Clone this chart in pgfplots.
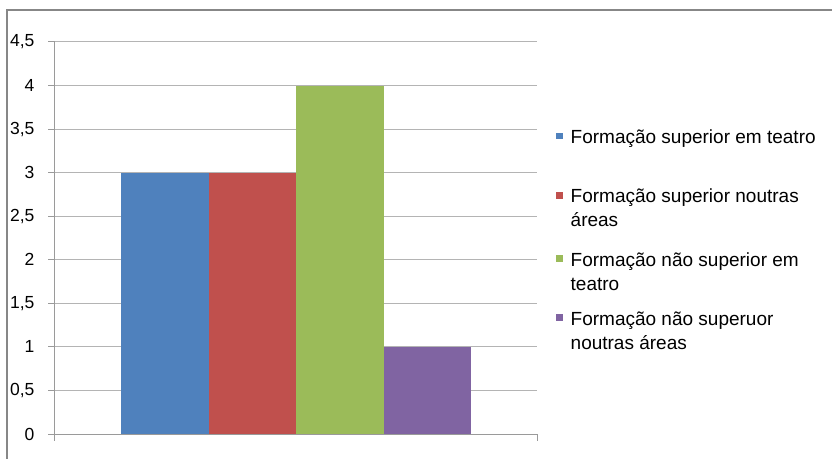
\documentclass[border=0pt]{standalone}
\usepackage{fontspec}
\setmainfont{Liberation Sans}
\usepackage{pgfplots}
\pgfplotsset{compat=1.18}
\definecolor{barblue}{HTML}{4F81BD}
\definecolor{barred}{HTML}{C0504D}
\definecolor{bargreen}{HTML}{9BBB59}
\definecolor{barpurple}{HTML}{8064A2}
\definecolor{gridgray}{HTML}{B4B4B4}
\definecolor{axisgray}{HTML}{9A9A9A}
\definecolor{framegray}{HTML}{878787}

% legend text: first-line height sets the spacing to the row above
\newcommand{\entry}[2]{\parbox[t]{258bp}{\rule{0pt}{#1}#2}}

\begin{document}
\begin{tikzpicture}
\begin{axis}[
  scale only axis, width=482bp, height=392bp,
  xmin=0, xmax=1, ymin=0, ymax=4.5,
  ytick={0,0.5,1,1.5,2,2.5,3,3.5,4,4.5},
  xtick={0,1}, xticklabels={},
  axis lines=left, axis line style={-, axisgray, line width=1bp},
  tick align=outside, major tick length=7bp,
  tick style={axisgray, line width=1bp},
  ymajorgrids, grid style={gridgray, line width=1bp},
  ybar=0pt, bar width=87.5bp,
  /pgf/number format/use comma,
  /pgf/number format/assume math mode=true,
  ticklabel style={font=\fontsize{17.5bp}{21bp}\selectfont, text=black},
  yticklabel style={xshift=-10bp},
  legend image code/.code={\fill[#1] (0bp,4bp) rectangle (6.7bp,10.6bp);},
  legend style={at={(1.0394,0.7844)}, anchor=north west, draw=none, fill=none,
    inner sep=0pt, outer sep=0pt, row sep=40bp, column sep=8bp,
    font=\fontsize{19bp}{24bp}\selectfont,
    nodes={inner sep=0pt, outer sep=0pt, text depth=0pt},
    cells={anchor=base west}},
]
\addplot[fill=barblue, draw=none] coordinates {(0.5,3)};
\addplot[fill=barred, draw=none] coordinates {(0.5,3)};
\addplot[fill=bargreen, draw=none] coordinates {(0.5,4)};
\addplot[fill=barpurple, draw=none] coordinates {(0.5,1)};
\addlegendentry{\entry{16.8bp}{Formação superior em teatro}}
\addlegendentry{\entry{19.4bp}{Formação superior noutras\\áreas}}
\addlegendentry{\entry{23.3bp}{Formação não superior em\\teatro}}
\addlegendentry{\entry{19bp}{Formação não superuor\\noutras áreas}}
\coordinate (O) at (rel axis cs:0,0);
\end{axis}
% chart frame: left and top edges
\draw[framegray, line width=2bp]
  ([shift={(-47.5bp,-25bp)}]O) -- ++(0,448.5bp) -- ++(824.5bp,0);
\pgfresetboundingbox
\useasboundingbox ([shift={(-55bp,-25bp)}]O) rectangle ++(832bp,459bp);
\end{tikzpicture}
\end{document}
